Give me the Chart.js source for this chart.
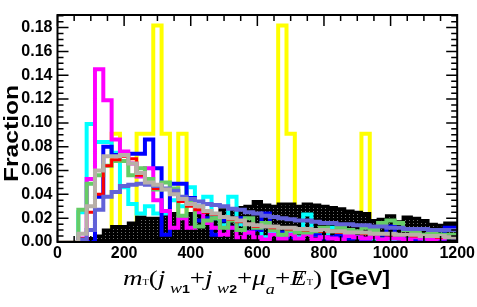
<!DOCTYPE html>
<html>
<head>
<meta charset="utf-8">
<script src="https://cdn.jsdelivr.net/npm/chart.js@4.4.1/dist/chart.umd.min.js"></script>
<style>
  html, body { margin: 0; padding: 0; background: #fff; }
  #c { display: block; }
</style>
</head>
<body>
<canvas id="c" width="477" height="307"></canvas>
<script>
// bin centres in GeV (25 GeV wide bins)
const binWidth = 25;
const binCenters = [0, 25, 50, 75, 100, 125, 150, 175, 200, 225, 250, 275, 300, 325, 350, 375, 400,
  425, 450, 475, 500, 525, 550, 575, 600, 625, 650, 675, 700, 725, 750, 775, 800, 825, 850, 875, 900,
  925, 950, 975, 1000, 1025, 1050, 1075, 1100, 1125, 1150, 1175, 1200];

const xTicks = [0, 200, 400, 600, 800, 1000, 1200];
const yTicks = [0, 0.02, 0.04, 0.06, 0.08, 0.10, 0.12, 0.14, 0.16, 0.18];

const yellowFrac = [0, 0, 0, 0, 0, 0, 0, 0.0909, 0, 0, 0.0909, 0.0909, 0.1818, 0.0909, 0, 0.0909, 0,
  0, 0, 0, 0, 0, 0, 0, 0, 0, 0, 0.1818, 0.0909, 0, 0, 0, 0, 0, 0, 0, 0,
  0.0909, 0, 0, 0, 0, 0, 0, 0, 0, 0, 0, 0];
const blackFrac = [0, 0, 0, 0, 0.003, 0.005, 0.010, 0.013, 0.013, 0.016, 0.021, 0.020, 0.020, 0.025, 0.024, 0.022, 0.024,
  0.023, 0.025, 0.024, 0.027, 0.028, 0.029, 0.030, 0.034, 0.031, 0.030, 0.032, 0.032, 0.030, 0.032, 0.031, 0.030, 0.029, 0.028, 0.026, 0.025,
  0.024, 0.018, 0.019, 0.022, 0.017, 0.021, 0.020, 0.018, 0.015, 0.014, 0.016, 0.016];
const magentaFrac = [0, 0, 0, 0.003, 0.053, 0.145, 0.119, 0.086, 0.076, 0.066, 0.055, 0.062, 0.035, 0.026, 0.012, 0.020, 0.012,
  0.025, 0.016, 0.012, 0.006, 0.012, 0.004, 0.008, 0.004, 0.002, 0.006, 0.003, 0.006, 0.003, 0.006, 0.002, 0.004, 0.003, 0.002, 0.005, 0.004,
  0.003, 0.004, 0.002, 0.003, 0.003, 0.002, 0.004, 0.003, 0.002, 0.003, 0.005, 0.004];
const cyanFrac = [0, 0, 0, 0.025, 0.099, 0.084, 0.084, 0.075, 0.046, 0.032, 0.024, 0.030, 0.024, 0.024, 0.035, 0.030, 0.046,
  0.030, 0.038, 0.020, 0.014, 0.038, 0.015, 0.008, 0.012, 0.004, 0.008, 0.004, 0.008, 0.004, 0.023, 0.006, 0.004, 0.012, 0.012, 0.010, 0.004,
  0.002, 0.003, 0.002, 0.002, 0.003, 0.002, 0.001, 0.002, 0.006, 0.006, 0.004, 0.004];
const blueFrac = [0, 0, 0, 0, 0, 0.038, 0.080, 0.073, 0.073, 0.074, 0.074, 0.086, 0.062, 0.006, 0.049, 0.049, 0.037,
  0.018, 0.020, 0.006, 0.018, 0.012, 0.020, 0.008, 0.010, 0.024, 0.012, 0.008, 0.004, 0.010, 0.008, 0.006, 0.003, 0.004, 0.005, 0.003, 0.004,
  0.002, 0.008, 0.006, 0.013, 0.004, 0.002, 0.002, 0.003, 0.002, 0.002, 0.012, 0.012];
const greenFrac = [0, 0, 0, 0.027, 0.049, 0.056, 0.064, 0.068, 0.068, 0.056, 0.062, 0.053, 0.044, 0.050, 0.045, 0.022, 0.035,
  0.013, 0.018, 0.020, 0.012, 0.018, 0.010, 0.020, 0.012, 0.016, 0.010, 0.006, 0.010, 0.008, 0.008, 0.009, 0.012, 0.009, 0.012, 0.010, 0.009,
  0.012, 0.010, 0.016, 0.018, 0.016, 0.010, 0.008, 0.006, 0.007, 0.006, 0.006, 0.006];
const redFrac = [0, 0, 0, 0.003, 0.025, 0.040, 0.064, 0.069, 0.072, 0.070, 0.056, 0.050, 0.045, 0.044, 0.042, 0.034, 0.030,
  0.027, 0.025, 0.023, 0.021, 0.019, 0.017, 0.015, 0.013, 0.013, 0.012, 0.012, 0.011, 0.011, 0.010, 0.010, 0.009, 0.009, 0.008, 0.008, 0.008,
  0.007, 0.007, 0.007, 0.006, 0.006, 0.006, 0.005, 0.005, 0.005, 0.004, 0.004, 0.004];
const slateFrac = [0, 0, 0, 0.002, 0.010, 0.027, 0.038, 0.042, 0.047, 0.048, 0.049, 0.048, 0.047, 0.045, 0.043, 0.038, 0.036,
  0.034, 0.032, 0.031, 0.030, 0.028, 0.027, 0.025, 0.024, 0.022, 0.021, 0.020, 0.019, 0.018, 0.018, 0.017, 0.016, 0.016, 0.015, 0.015, 0.014,
  0.014, 0.013, 0.013, 0.012, 0.012, 0.011, 0.011, 0.011, 0.010, 0.010, 0.010, 0.010];
const grayFrac = [0, 0, 0, 0.007, 0.030, 0.060, 0.072, 0.072, 0.073, 0.066, 0.058, 0.050, 0.048, 0.044, 0.040, 0.036, 0.032,
  0.030, 0.026, 0.024, 0.021, 0.020, 0.018, 0.015, 0.014, 0.013, 0.013, 0.012, 0.012, 0.011, 0.011, 0.010, 0.010, 0.009, 0.009, 0.008, 0.008,
  0.008, 0.007, 0.007, 0.007, 0.006, 0.006, 0.006, 0.005, 0.005, 0.005, 0.004, 0.004];

const canvas = document.getElementById('c');
const ctx = canvas.getContext('2d');

// dotted black fill, like the root fill style
const pc = document.createElement('canvas');
pc.width = 4; pc.height = 3;
const pctx = pc.getContext('2d');
pctx.fillStyle = '#000';
pctx.fillRect(0, 0, 4, 3);
pctx.fillStyle = '#707070';
pctx.fillRect(1, 1, 1, 1);
const dots = ctx.createPattern(pc, 'repeat');

function steps(vals) {
  const pts = vals.map((v, i) => ({ x: binCenters[i] - binWidth / 2, y: v }));
  pts.push({ x: binCenters[binCenters.length - 1] + binWidth / 2, y: 0 });
  return pts;
}

function hist(vals, color, order, extra) {
  return Object.assign({
    data: steps(vals),
    borderColor: color,
    borderWidth: 4,
    stepped: true,
    pointRadius: 0,
    fill: false,
    clip: 0,
    order: order
  }, extra || {});
}

const datasets = [
  hist(grayFrac, '#b8b0a8', 0),
  hist(slateFrac, '#6262d8', 1),
  hist(redFrac, '#ff0000', 2, { borderWidth: 3 }),
  hist(greenFrac, '#66cc66', 3),
  hist(magentaFrac, '#ff00ff', 4),
  hist(blueFrac, '#0000ff', 5),
  hist(cyanFrac, '#00ffff', 6),
  hist(blackFrac, '#000000', 7, { borderWidth: 3, fill: 'origin', backgroundColor: dots }),
  hist(yellowFrac, '#ffff00', 8)
];

const frame = {
  id: 'frame',
  afterDatasetsDraw(chart) {
    const { ctx, chartArea: a, scales: { x, y } } = chart;
    ctx.save();
    ctx.strokeStyle = '#000';
    ctx.lineWidth = 1.5;
    ctx.beginPath();
    const xStep = (xTicks[1] - xTicks[0]) / 4;
    for (let i = 0; xTicks[0] + i * xStep <= x.max + 1e-9; i++) {
      const px = x.getPixelForValue(xTicks[0] + i * xStep);
      const len = i % 4 === 0 ? 11 : 6;
      ctx.moveTo(px, a.bottom); ctx.lineTo(px, a.bottom - len);
      ctx.moveTo(px, a.top); ctx.lineTo(px, a.top + len);
    }
    const yStep = (yTicks[1] - yTicks[0]) / 4;
    for (let i = 0; yTicks[0] + i * yStep <= y.max + 1e-9; i++) {
      const py = y.getPixelForValue(yTicks[0] + i * yStep);
      const len = i % 4 === 0 ? 11 : 6;
      ctx.moveTo(a.left, py); ctx.lineTo(a.left + len, py);
      ctx.moveTo(a.right, py); ctx.lineTo(a.right - len, py);
    }
    ctx.stroke();
    ctx.lineWidth = 2;
    ctx.strokeRect(a.left, a.top, a.right - a.left, a.bottom - a.top);
    ctx.restore();
  },
  afterDraw(chart) {
    const { ctx, chartArea: a } = chart;
    ctx.save();
    ctx.fillStyle = '#000';

    // y title
    ctx.font = 'bold 20px "Liberation Sans"';
    const fw = ctx.measureText('Fraction').width;
    ctx.translate(18, (a.top + a.bottom) / 2 + 5);
    ctx.rotate(-Math.PI / 2);
    ctx.scale(97 / fw, 1);
    ctx.textAlign = 'center';
    ctx.textBaseline = 'alphabetic';
    ctx.fillText('Fraction', 0, 0);
    ctx.restore();

    // x title
    const M = 'italic 21px "Liberation Serif"';
    const U = '21px "Liberation Serif"';
    const S = 'italic 14px "Liberation Serif"';
    const N = 'bold 11px "Liberation Sans"';
    const T = '8px "Liberation Serif"';
    const segs = [
      { t: 'm', f: M }, { t: 'T', f: T }, { t: '(', f: U },
      { t: 'j', f: M }, { t: ' ', f: S }, { t: 'w', f: S, dy: 8 }, { t: '1', f: N, dy: 8 }, { t: '+', f: U },
      { t: 'j', f: M }, { t: ' ', f: S }, { t: 'w', f: S, dy: 8 }, { t: '2', f: N, dy: 8 }, { t: '+', f: U },
      { t: 'μ', f: M }, { t: 'a', f: S, dy: 9 }, { t: '+', f: U },
      { t: 'E', f: M }, { t: '/', f: U, over: true }, { t: 'T', f: T }, { t: ')', f: U }
    ];
    ctx.save();
    ctx.textBaseline = 'alphabetic';
    let W = 0;
    segs.forEach(s => { ctx.font = s.f; s.w = s.over ? 0 : ctx.measureText(s.t).width; W += s.w; });
    const base = 285;
    ctx.translate(123, base);
    ctx.scale(199 / W, 1);
    let cx = 0, lastW = 0;
    segs.forEach(s => {
      ctx.font = s.f;
      if (s.over) {
        ctx.textAlign = 'center';
        ctx.fillText(s.t, cx - lastW / 2 + 1, s.dy || 0);
        ctx.textAlign = 'left';
      } else {
        ctx.textAlign = 'left';
        ctx.fillText(s.t, cx, s.dy || 0);
        cx += s.w; lastW = s.w;
      }
    });
    ctx.restore();

    ctx.save();
    ctx.font = 'bold 20px "Liberation Sans"';
    const gw = ctx.measureText('[GeV]').width;
    ctx.translate(330, base);
    ctx.scale(60 / gw, 1);
    ctx.textBaseline = 'alphabetic';
    ctx.fillText('[GeV]', 0, 0);
    ctx.restore();
  }
};

Chart.defaults.font.family = '"Liberation Sans", Arial, sans-serif';
Chart.defaults.color = '#000';

new Chart(ctx, {
  type: 'line',
  data: { datasets: datasets },
  options: {
    responsive: false,
    animation: false,
    events: [],
    devicePixelRatio: 1,
    layout: { padding: { top: 15, right: 19.5, left: 0, bottom: 0 } },
    plugins: { legend: { display: false }, tooltip: { enabled: false } },
    scales: {
      x: {
        type: 'linear', min: 0, max: 1200,
        afterBuildTicks: s => { s.ticks = xTicks.map(v => ({ value: v })); },
        ticks: { font: { size: 16, weight: 'bold' }, padding: 2, maxRotation: 0, autoSkip: false,
          callback: v => String(v) },
        grid: { display: false, drawTicks: false },
        border: { display: false },
        afterFit: s => { s.height = 65; }
      },
      y: {
        type: 'linear', min: 0, max: 0.1906,
        afterBuildTicks: s => { s.ticks = yTicks.map(v => ({ value: v })); },
        ticks: { font: { size: 16, weight: 'bold' }, padding: 5, autoSkip: false,
          callback: v => v.toFixed(2) },
        grid: { display: false, drawTicks: false },
        border: { display: false },
        afterFit: s => { s.width = 57.5; }
      }
    }
  },
  plugins: [frame]
});
</script>
</body>
</html>
